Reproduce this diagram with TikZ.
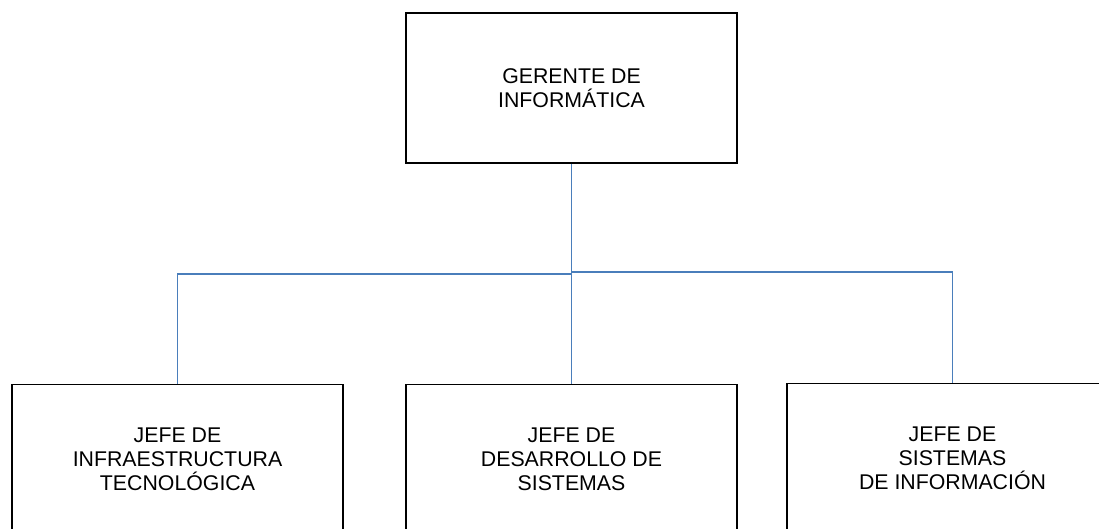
\documentclass[tikz,border=0pt]{standalone}
\usepackage{fontspec}
\setmainfont{Liberation Sans}
\usepackage{tikz}
\usepackage{xcolor}
\definecolor{line-blue}{HTML}{4A7EBB}
\tikzset{
    org-box/.style = {draw=black, fill=white, line width=1.6pt, rectangle, minimum width=331pt, minimum height=150pt, align=center, font=\fontsize{21.3pt}{24pt}\selectfont},
    org-line/.style = {draw=line-blue, line width=1.6pt},
}

\begin{document}
\begin{tikzpicture}[x=1pt, y=1pt]
\clip (0,0) rectangle (1099,-529);
\fill[white] (0,0) rectangle (1099,-529);
\node [org-box] (gerente) at (571.5,-88) {GERENTE DE\\INFORMÁTICA};
\node [org-box] (infra) at (177.5,-459.5) {JEFE DE\\INFRAESTRUCTURA\\TECNOLÓGICA};
\node [org-box] (desarrollo) at (571.5,-459.5) {JEFE DE\\DESARROLLO DE\\SISTEMAS};
\node [org-box] (sistemas) at (952.5,-458.5) {JEFE DE\\SISTEMAS\\DE INFORMACIÓN};
\coordinate (split-left) at (572,-274);
\coordinate (split-right) at (572,-272);
\draw [org-line] (gerente.south) -- (desarrollo.north);
\draw [org-line] (split-left) -| (infra.north);
\draw [org-line] (split-right) -| (sistemas.north);
\end{tikzpicture}
\end{document}
